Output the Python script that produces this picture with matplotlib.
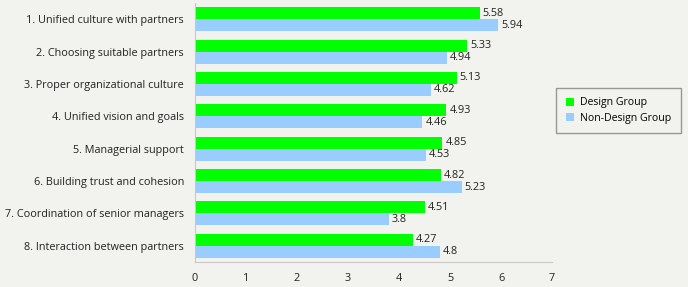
import numpy as np
import matplotlib
matplotlib.use('Agg')
import matplotlib.pyplot as plt

categories = ['1. Unified culture with partners', '2. Choosing suitable partners',
              '3. Proper organizational culture', '4. Unified vision and goals',
              '5. Managerial support', '6. Building trust and cohesion',
              '7. Coordination of senior managers', '8. Interaction between partners']
design = [5.58, 5.33, 5.13, 4.93, 4.85, 4.82, 4.51, 4.27]
non_design = [5.94, 4.94, 4.62, 4.46, 4.53, 5.23, 3.8, 4.8]
value_labels_design = ['5.58', '5.33', '5.13', '4.93', '4.85', '4.82', '4.51', '4.27']
value_labels_non = ['5.94', '4.94', '4.62', '4.46', '4.53', '5.23', '3.8', '4.8']

plt.rcParams['font.family'] = ['Open Sans', 'DejaVu Sans']
bg = '#f2f2ee'
fs = 7.8

fig = plt.figure(figsize=(6.88, 2.87), dpi=100, facecolor=bg)
ax = fig.add_axes([195/688, 25/287, 357/688, 259/287], facecolor=bg)

y = np.arange(len(categories))
h = 0.37
b1 = ax.barh(y - h/2, design, height=h, color='#00ff00', label='Design Group')
b2 = ax.barh(y + h/2, non_design, height=h, color='#99ccff', label='Non-Design Group')

for i in range(len(categories)):
    ax.text(design[i] + 0.06, y[i] - h/2, value_labels_design[i], va='center', ha='left', fontsize=fs, color='#222222')
    ax.text(non_design[i] + 0.06, y[i] + h/2, value_labels_non[i], va='center', ha='left', fontsize=fs, color='#222222')

ax.set_ylim(len(categories) - 0.5, -0.5)
ax.set_xlim(0, 7)
ax.set_xticks(range(8))
ax.set_yticks(y)
ax.set_yticklabels(categories, fontsize=fs, color='#222222')
ax.tick_params(axis='x', labelsize=fs, colors='#222222', length=0, pad=8)
ax.tick_params(axis='y', length=0, pad=8)
for s in ['top', 'right']:
    ax.spines[s].set_visible(False)
ax.spines['left'].set_color('#c8c8c8')
ax.spines['bottom'].set_color('#c8c8c8')

leg = fig.legend(handles=[b1, b2], loc='upper left', bbox_to_anchor=(556/688, 1 - 88/287),
                 fontsize=7.6, frameon=True, fancybox=False, edgecolor='#808080',
                 facecolor=bg, handlelength=0.8, handleheight=0.8, handletextpad=0.6,
                 borderpad=0.9, labelspacing=0.4, borderaxespad=0)
leg.get_frame().set_linewidth(1.0)

fig.savefig('out.png', dpi=100, facecolor=bg)
